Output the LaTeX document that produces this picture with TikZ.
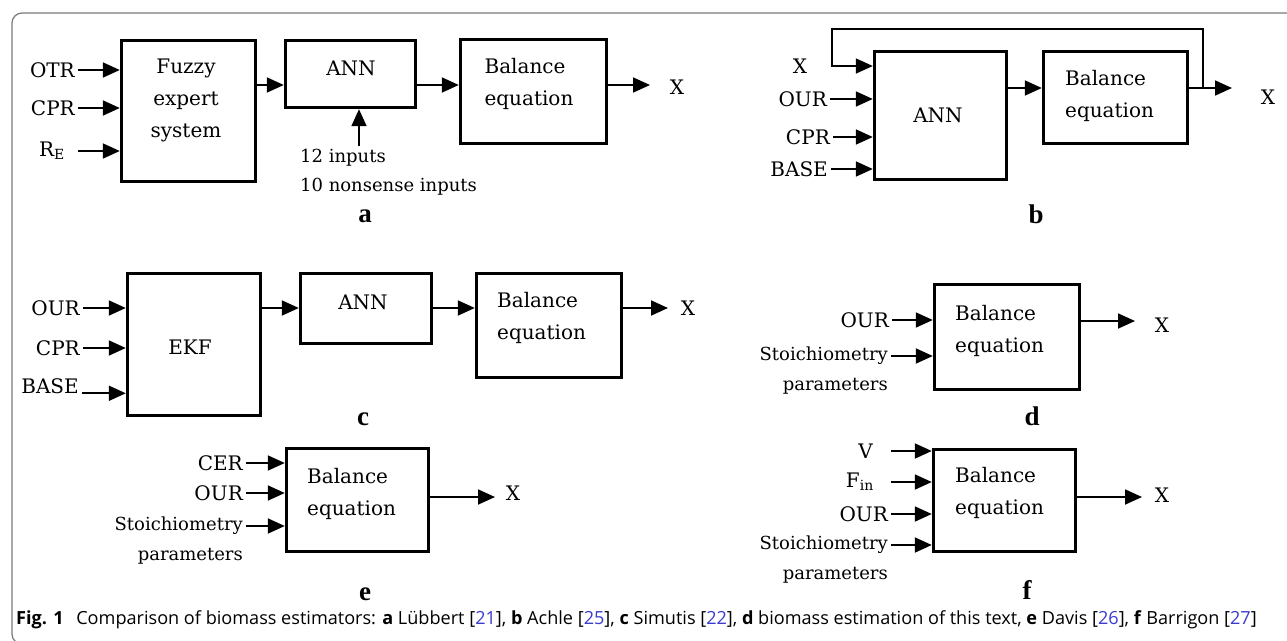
\documentclass[tikz,border=0pt]{standalone}
\usepackage{fontspec}
\setmainfont{DejaVu Serif}
\newfontfamily\tagfont{Liberation Serif}
\newfontfamily\capfont{Open Sans}
\usetikzlibrary{arrows.meta,positioning}
\definecolor{framegray}{HTML}{7A7A7A}
\definecolor{citeblue}{HTML}{3B3BD0}
\newcommand{\txtsz}{\fontsize{20}{32}\selectfont}
\newcommand{\smlsz}{\fontsize{18}{29}\selectfont}
\newcommand{\refno}[1]{[\textcolor{citeblue}{#1}]}
\tikzset{
	blk/.style={draw, line width=3.4pt, inner sep=0pt},
	txt/.style={inner sep=3pt, font=\txtsz, align=left},
	lbl/.style={inner sep=3pt, font=\txtsz, anchor=east},
	slbl/.style={inner sep=3pt, font=\smlsz, anchor=east, align=left},
	xout/.style={inner sep=0pt, font=\txtsz},
	tag/.style={inner sep=0pt, font=\tagfont\bfseries\fontsize{27}{27}\selectfont},
	io/.style={line width=1.8pt, -{Triangle[length=17pt,width=15pt]}},
}
\begin{document}
\begin{tikzpicture}[x=1pt,y=-1pt]
	\clip (0,0) rectangle (1287,640);
	\draw [framegray, line width=1.2pt, rounded corners=10pt] (12,13) rectangle (1300,644);
	% a
	\node [blk, minimum width=134pt, minimum height=141pt] (fuzzy) at (188.5,111) {};
	\node [blk, minimum width=130pt, minimum height=67pt] (annA) at (350.5,74) {};
	\node [blk, minimum width=146pt, minimum height=104pt] (balA) at (533.5,91.5) {};
	\node [txt, align=center] (fuzzyT) at (186,100) {Fuzzy\\expert\\system};
	\node [txt] (annAT) at (351,68) {ANN};
	\node [txt] (balAT) at (529,84) {Balance\\equation};
	\node [lbl] (otr) at (78,70) {OTR};
	\node [lbl] (cprA) at (78,108) {CPR};
	\node [lbl] (re) at (68,151) {R\textsubscript{E}};
	\node [slbl, anchor=north west] (inA) at (297,146) {12 inputs\\10 nonsense inputs};
	\coordinate (flowA) at (0,85);
	\coordinate (endA) at (650,85);
	\node [xout] (xA) at (677,87) {X};
	\node [tag] (tagA) at (365,216) {a};
	\draw [io] (otr.east) -- (otr.east -| fuzzy.west);
	\draw [io] (cprA.east) -- (cprA.east -| fuzzy.west);
	\draw [io] (re.east -| otr.east) -- (re.east -| fuzzy.west);
	\draw [io] (fuzzy.east |- flowA) -- (annA.west |- flowA);
	\draw [io] (annA.east |- flowA) -- (balA.west |- flowA);
	\draw [io] (balA.east |- flowA) -- (endA);
	\draw [io] ([xshift=8.5pt]annA.south |- inA.north) -- ([xshift=8.5pt]annA.south);
	% b
	\node [blk, minimum width=132pt, minimum height=128pt] (annB) at (940.5,115.5) {};
	\node [blk, minimum width=144pt, minimum height=92pt] (balB) at (1115.5,97.5) {};
	\node [txt] (annBT) at (938,115) {ANN};
	\node [txt, anchor=west] (balBT) at (1062,96) {Balance\\equation};
	\node [xout] (xinB) at (800,66) {X};
	\node [lbl] (ourB) at (830,99) {OUR};
	\node [lbl] (cprB) at (833,137) {CPR};
	\node [lbl] (baseB) at (831,169) {BASE};
	\coordinate (flowB) at (0,88);
	\coordinate (fbB) at (1203,88);
	\coordinate (topB) at (832,29);
	\coordinate (endB) at (1232,88);
	\node [xout] (xB) at (1268,97) {X};
	\node [tag] (tagB) at (1036,214) {b};
	\draw [io, line width=1.5pt] (fbB) |- (topB) |- (annB.west |- xinB);
	\draw [io] (ourB.east) -- (ourB.east -| annB.west);
	\draw [io] (cprB.east) -- (cprB.east -| annB.west);
	\draw [io] (baseB.east) -- (baseB.east -| annB.west);
	\draw [io] (annB.east |- flowB) -- (balB.west |- flowB);
	\draw [io] (balB.east |- flowB) -- (endB);
	% c
	\node [blk, minimum width=133pt, minimum height=142pt] (ekf) at (194,344.5) {};
	\node [blk, minimum width=131pt, minimum height=70pt] (annC) at (366,308.5) {};
	\node [blk, minimum width=145pt, minimum height=104pt] (balC) at (549,325.5) {};
	\node [txt] (ekfT) at (190,347) {EKF};
	\node [txt] (annCT) at (363,302) {ANN};
	\node [txt, anchor=west] (balCT) at (494,318) {Balance\\equation};
	\node [lbl] (ourC) at (83,308) {OUR};
	\node [lbl] (cprC) at (83,348) {CPR};
	\node [lbl] (baseC) at (82,386) {BASE};
	\coordinate (flowC) at (0,308);
	\coordinate (endC) at (668,308);
	\node [xout] (xC) at (688,308) {X};
	\node [tag] (tagC) at (363,419) {c};
	\draw [io] (ourC.east) -- (ourC.east -| ekf.west);
	\draw [io] (cprC.east) -- (cprC.east -| ekf.west);
	\draw [io] (baseC.base east) -- (baseC.base east -| ekf.west);
	\draw [io] (ekf.east |- flowC) -- (annC.west |- flowC);
	\draw [io] (annC.east |- flowC) -- (balC.west |- flowC);
	\draw [io] (balC.east |- flowC) -- (endC);
	% d
	\node [blk, minimum width=145pt, minimum height=105pt] (balD) at (1007,337) {};
	\node [txt, anchor=west] (balDT) at (952,331) {Balance\\equation};
	\node [lbl] (ourD) at (892,320) {OUR};
	\node [slbl] (stoD) at (891,356) {Stoichiometry};
	\node [slbl, below=7pt of stoD.south east, anchor=north east] (parD) {parameters};
	\coordinate (endD) at (1135,321);
	\node [xout] (xD) at (1162,325) {X};
	\node [tag] (tagD) at (1032,416) {d};
	\draw [io] (ourD.east) -- (ourD.east -| balD.west);
	\draw [io] (stoD.east) -- (stoD.east -| balD.west);
	\draw [io] (balD.east |- endD) -- (endD);
	% e
	\node [blk, minimum width=142pt, minimum height=103pt] (balE) at (357.5,500) {};
	\node [txt, anchor=west] (balET) at (304,494) {Balance\\equation};
	\node [lbl] (cerE) at (246,463) {CER};
	\node [lbl] (ourE) at (246,493) {OUR};
	\node [slbl] (stoE) at (246,526) {Stoichiometry};
	\node [slbl, below=7pt of stoE.south east, anchor=north east] (parE) {parameters};
	\coordinate (endE) at (495,497);
	\node [xout] (xE) at (513,493) {X};
	\node [tag] (tagE) at (365,594) {e};
	\draw [io] (cerE.east) -- (cerE.east -| balE.west);
	\draw [io] (ourE.east) -- (ourE.east -| balE.west);
	\draw [io] (stoE.east) -- (stoE.east -| balE.west);
	\draw [io] (balE.east |- endE) -- (endE);
	% f
	\node [blk, minimum width=142pt, minimum height=102pt] (balF) at (1004.5,500.5) {};
	\node [txt, anchor=west] (balFT) at (952,493) {Balance\\equation};
	\node [lbl] (vF) at (876,451) {V};
	\node [lbl] (finF) at (877,482) {F\textsubscript{in}};
	\node [lbl] (ourF) at (891,514) {OUR};
	\node [slbl] (stoF) at (891,545) {Stoichiometry};
	\node [slbl, below=7pt of stoF.south east, anchor=north east] (parF) {parameters};
	\coordinate (endF) at (1142,497);
	\node [xout] (xF) at (1162,495) {X};
	\node [tag] (tagF) at (1027,590) {f};
	\draw [io] (vF.east -| ourF.east) -- (vF.east -| balF.west);
	\draw [io] (finF.east -| ourF.east) -- (finF.east -| balF.west);
	\draw [io] (ourF.east) -- (ourF.east -| balF.west);
	\draw [io] (stoF.east) -- (stoF.east -| balF.west);
	\draw [io] (balF.east |- endF) -- (endF);
	% caption
	\node [anchor=west, inner sep=0pt, font=\capfont\fontsize{18.1}{21}\selectfont] (cap) at (16,620) {\textbf{Fig. 1}\hspace{0.7em}Comparison of biomass estimators: \textbf{a} Lübbert \refno{21}, \textbf{b} Achle \refno{25}, \textbf{c} Simutis \refno{22}, \textbf{d} biomass estimation of this text, \textbf{e} Davis \refno{26}, \textbf{f} Barrigon \refno{27}};
\end{tikzpicture}
\end{document}
